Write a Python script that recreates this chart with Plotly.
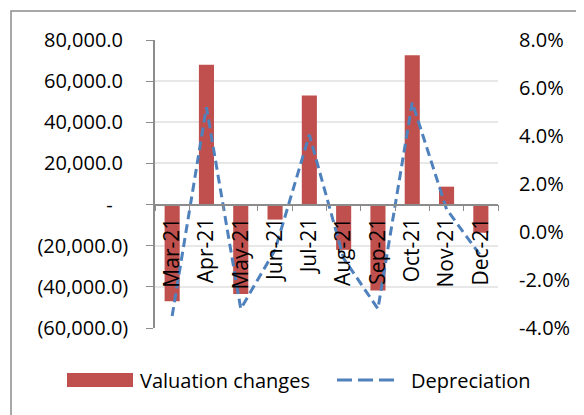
import plotly.graph_objects as go

# ─── Data ─────────────────────────────────────────────────────────────────────
months = ["Mar-21", "Apr-21", "May-21", "Jun-21", "Jul-21",
          "Aug-21", "Sep-21", "Oct-21", "Nov-21", "Dec-21"]
valuation_changes = [-47000, 68000, -43500, -7300, 53000,
                     -22000, -41800, 72600, 8700, -13700]
depreciation = [-3.5, 5.2, -3.2, -0.75, 4.05, -1.1, -3.2, 5.4, 0.95, -1.0]

left_tickvals = [-60000, -40000, -20000, 0, 20000, 40000, 60000, 80000]
left_ticktext = ["(60,000.0)", "(40,000.0)", "(20,000.0)", "-\u00a0\u00a0\u00a0",
                 "20,000.0\u00a0", "40,000.0\u00a0", "60,000.0\u00a0", "80,000.0\u00a0"]
right_tickvals = [-4, -2, 0, 2, 4, 6, 8]
right_ticktext = ["-4.0%", "-2.0%", "0.0%", "2.0%", "4.0%", "6.0%", "8.0%"]

# ─── Theme ────────────────────────────────────────────────────────────────────
BAR_CLR  = "#c0504d"
LINE_CLR = "#4f81bd"
AXIS_CLR = "#8c8c8c"
GRID_CLR = "#e8e8e8"
FONT     = "Open Sans"

Y_MIN, Y_MAX = -60000, 80000
zero_pos = (0 - Y_MIN) / (Y_MAX - Y_MIN)

# page body has an 8px margin, so work in screen px and shift by 8
OFF = 8
W, H = 584 - OFF, 415 - OFF
PL, PR, PT, PB = 155 - OFF, 498 - OFF, 40 - OFF, 328 - OFF   # plot box in figure px

def px_x(p): return (p - OFF - PL) / (PR - PL)
def px_y(p): return (PB - (p - OFF)) / (PB - PT)

fig = go.Figure()
fig.add_trace(go.Bar(
    x=months, y=valuation_changes, name="Valuation changes",
    marker=dict(color=BAR_CLR, line=dict(width=0)),
    yaxis="y", showlegend=False,
))
fig.add_trace(go.Scatter(
    x=months, y=depreciation, name="Depreciation",
    mode="lines", line=dict(color=LINE_CLR, width=3, dash="9px,5px"),
    yaxis="y2", showlegend=False,
))

# ── Hand-drawn legend + outer frame ─────────────────────────────────────────
shapes = [
    dict(type="rect", xref="paper", yref="paper",
         x0=px_x(11), x1=px_x(700), y0=px_y(600), y1=px_y(11),
         line=dict(color=AXIS_CLR, width=1.5), fillcolor="rgba(0,0,0,0)", layer="below"),
    dict(type="rect", xref="paper", yref="paper",
         x0=px_x(67), x1=px_x(133), y0=px_y(387), y1=px_y(373),
         line=dict(width=0), fillcolor=BAR_CLR),
    dict(type="line", xref="paper", yref="paper",
         x0=px_x(337), x1=px_x(395), y0=px_y(380), y1=px_y(380),
         line=dict(color=LINE_CLR, width=3, dash="15px,6px")),
]
annotations = [
    dict(text="Valuation changes", xref="paper", yref="paper",
         x=px_x(138), y=px_y(380), xanchor="left", yanchor="middle",
         showarrow=False, font=dict(size=20, color="#000")),
    dict(text="Depreciation", xref="paper", yref="paper",
         x=px_x(409), y=px_y(380), xanchor="left", yanchor="middle",
         showarrow=False, font=dict(size=20, color="#000")),
]

fig.update_layout(
    width=W, height=H,
    paper_bgcolor="white", plot_bgcolor="white",
    font=dict(family=FONT, color="#000", size=20),
    margin=dict(l=PL, r=W - PR, t=PT, b=H - PB, autoexpand=False),
    bargap=0.56,
    showlegend=False,
    shapes=shapes,
    annotations=annotations,
    xaxis=dict(
        type="category", anchor="free", position=zero_pos,
        showline=True, linecolor=AXIS_CLR, linewidth=1.5,
        ticks="outside", tickson="boundaries", ticklen=6, tickcolor=AXIS_CLR,
        tickangle=-90, tickfont=dict(size=21), ticklabelstandoff=4,
        showgrid=False, zeroline=False,
    ),
    yaxis=dict(
        range=[Y_MIN, Y_MAX], tickvals=left_tickvals, ticktext=left_ticktext,
        showline=True, linecolor=AXIS_CLR, linewidth=1.5,
        ticks="outside", ticklen=7, tickcolor=AXIS_CLR, ticklabelstandoff=14,
        gridcolor=GRID_CLR, gridwidth=1.5, zeroline=False,
    ),
    yaxis2=dict(
        range=[-4, 8], tickvals=right_tickvals, ticktext=right_ticktext,
        overlaying="y", side="right", showgrid=False, zeroline=False,
        showline=False, ticks="", ticklabelstandoff=20,
    ),
)

fig.write_html("out.html")
